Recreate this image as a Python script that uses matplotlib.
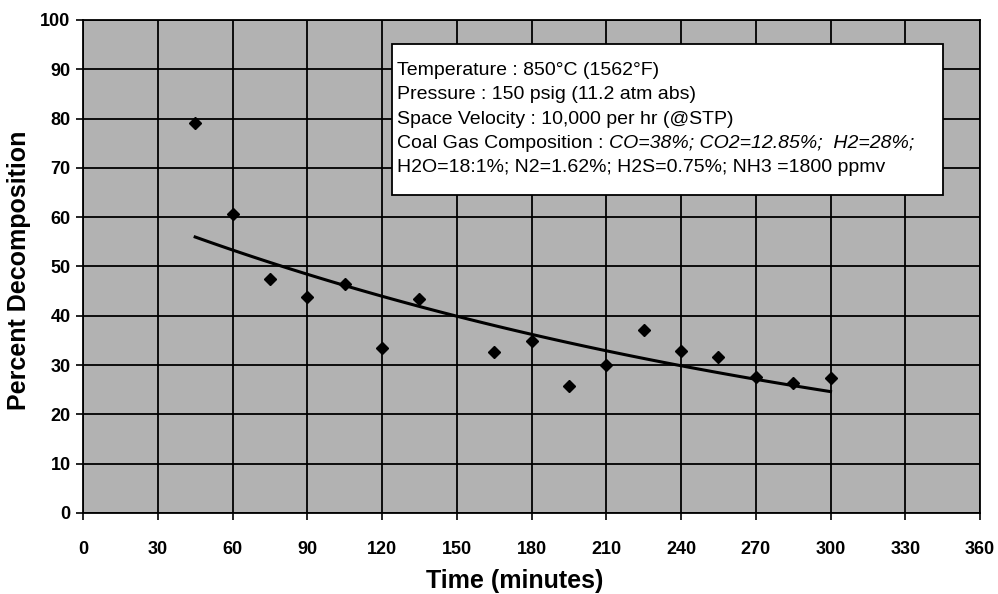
import matplotlib
matplotlib.use('Agg')
import matplotlib.pyplot as plt
import numpy as np

plt.rcParams['font.family'] = ['Liberation Sans', 'DejaVu Sans']

# measured decomposition vs time
time_min = [45, 60, 75, 90, 105, 120, 135, 165, 180, 195, 210, 225, 240, 255, 270, 285, 300]
pct_decomp = [79.2, 60.7, 47.5, 43.8, 46.4, 33.4, 43.5, 32.6, 34.8, 25.7, 30.0, 37.2, 32.8, 31.6, 27.5, 26.3, 27.3]

x_ticks = list(range(0, 361, 30))
y_ticks = list(range(0, 101, 10))

conditions = ['Temperature : 850°C (1562°F)',
              'Pressure : 150 psig (11.2 atm abs)',
              'Space Velocity : 10,000 per hr (@STP)']
gas_head = 'Coal Gas Composition : '
gas_line1 = 'CO=38%; CO2=12.85%;  H2=28%;'
gas_line2 = 'H2O=18:1%; N2=1.62%; H2S=0.75%; NH3 =1800 ppmv'

fig = plt.figure(figsize=(9.98, 5.94), dpi=100)
ax = fig.add_axes([0.0832, 0.1364, 0.8988, 0.830])
ax.set_facecolor('#b2b2b2')

x = np.array(time_min, dtype=float)
y = np.array(pct_decomp, dtype=float)

# exponential trendline (Excel style)
b, a = np.polyfit(x, np.log(y), 1)
xt = np.linspace(x.min(), x.max(), 100)
ax.plot(xt, np.exp(a) * np.exp(b * xt), color='black', lw=2.2, zorder=3)
ax.plot(x, y, 'D', color='black', ms=6.5, zorder=4)

ax.set_xlim(0, 360)
ax.set_ylim(0, 100)
ax.set_xticks(x_ticks)
ax.set_yticks(y_ticks)
ax.grid(True, color='black', lw=1.3)
ax.set_axisbelow(True)
for s in ax.spines.values():
    s.set_linewidth(1.3)
ax.tick_params(direction='out', length=5, width=1.2, labelsize=13)
ax.tick_params(axis='x', pad=15)
ax.tick_params(axis='y', pad=4)
for lbl in ax.get_xticklabels() + ax.get_yticklabels():
    lbl.set_fontweight('bold')

ax.set_xlabel('Time (minutes)', fontsize=18, fontweight='bold', va='center')
ax.xaxis.set_label_coords(0.4816, -0.138)
ax.set_ylabel('Percent Decomposition', fontsize=18, fontweight='bold', va='center')
ax.yaxis.set_label_coords(-0.0713, 0.493)

# conditions box
box = plt.Rectangle((124, 64.4), 221, 30.7, facecolor='white', edgecolor='black',
                    lw=1.3, zorder=5)
ax.add_patch(box)
fs = 14
ty = 89.7
dy = 4.9
for line in conditions:
    ax.text(126, ty, line, fontsize=fs, va='center', zorder=6)
    ty -= dy
t = ax.text(126, ty, gas_head, fontsize=fs, va='center', zorder=6)
fig.canvas.draw()
bb = t.get_window_extent()
xe = ax.transData.inverted().transform((bb.x1, bb.y0))[0]
ax.text(xe, ty, gas_line1, fontsize=fs, va='center', style='italic', zorder=6)
ty -= dy
ax.text(126, ty, gas_line2, fontsize=fs, va='center', zorder=6)

fig.savefig('out.png', dpi=100)
